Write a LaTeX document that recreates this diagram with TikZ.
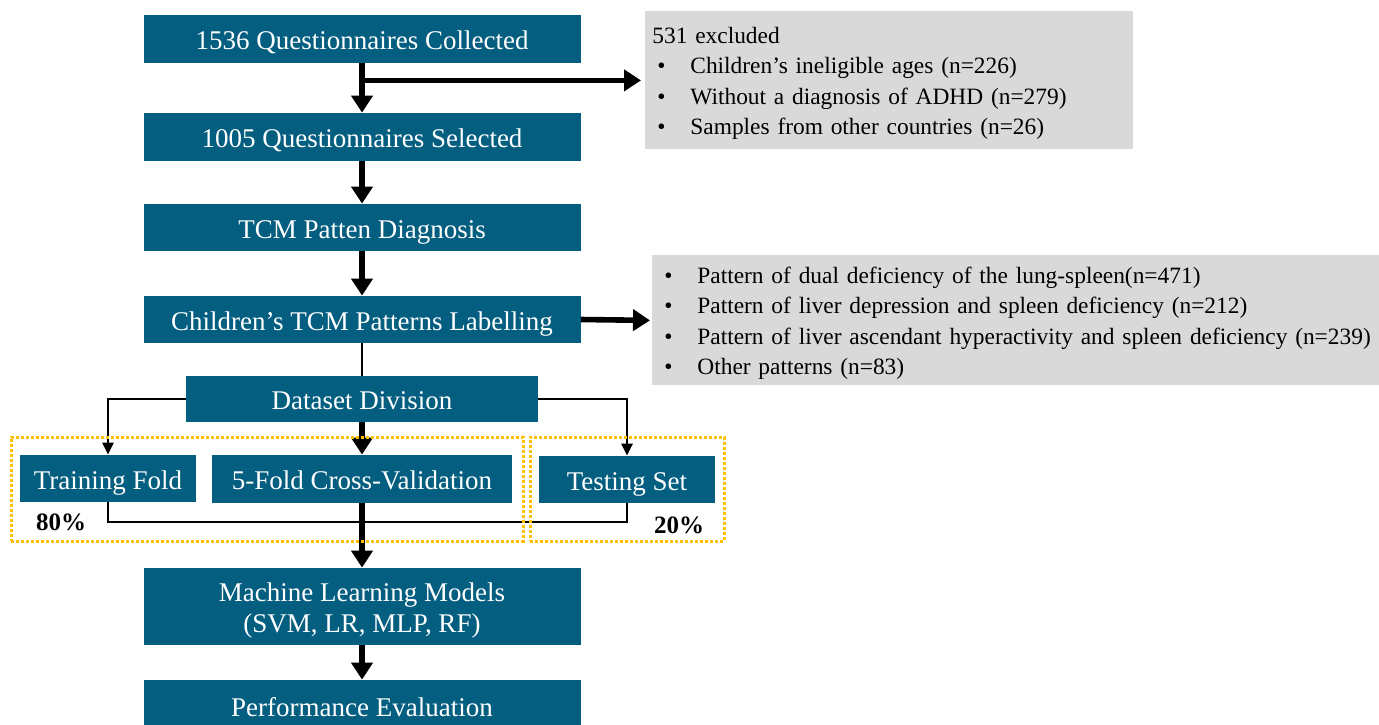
\documentclass[tikz,border=0pt]{standalone}
\usepackage{fontspec}
\setmainfont{Liberation Serif}
\usetikzlibrary{arrows.meta}
\definecolor{tealbox}{HTML}{045E80}
\definecolor{grayb}{HTML}{D9D9D9}
\definecolor{goldc}{HTML}{FFC000}
\newcommand{\bitem}[1]{\mbox{\makebox[19pt][l]{\hspace{2.5pt}\textbullet}#1}}
\tikzset{
  box/.style={fill=tealbox, text=white, inner sep=0pt, align=center, font=\fontsize{13.5}{15.5}\selectfont},
  oneline/.style={text height=11.5pt, text depth=0.6pt},
  graybox/.style={fill=grayb, anchor=north west, inner xsep=3.5pt, inner ysep=0pt, align=left, text height=9.6pt, text depth=46.7pt, font=\fontsize{11.7}{15.2}\selectfont},
  bigarrow/.style={line width=2.8pt, -{Triangle[width=10.5pt,length=8.5pt]}},
  thinarrow/.style={line width=1.4pt, -{Triangle[width=5.5pt,length=6pt]}},
  thinline/.style={line width=1.4pt},
  dotframe/.style={draw=goldc, line width=1.5pt, dash pattern=on 1.5pt off 1pt, inner sep=0pt},
  pct/.style={font=\fontsize{12.5}{14}\selectfont\bfseries, inner sep=0pt}
}
\begin{document}
\begin{tikzpicture}[x=0.5pt,y=-0.5pt]
\useasboundingbox (0,0) rectangle (1379,724);
% main boxes
\node[box, oneline, minimum width=218.5pt, minimum height=24pt] (b1) at (362,39) {1536 Questionnaires Collected};
\node[box, oneline, minimum width=218.5pt, minimum height=24pt] (b2) at (362,137) {1005 Questionnaires Selected};
\node[box, oneline, minimum width=218.5pt, minimum height=23.5pt] (b3) at (362,227.5) {TCM Patten Diagnosis};
\node[box, oneline, minimum width=218.5pt, minimum height=23.5pt] (b4) at (362,319.5) {Children’s TCM Patterns Labelling};
\node[box, oneline, minimum width=176pt, minimum height=23pt] (dd) at (362,399) {Dataset Division};
\node[box, oneline, minimum width=88pt, minimum height=23.5pt] (tf) at (108,478.5) {Training Fold};
\node[box, oneline, minimum width=150pt, minimum height=24pt] (cv) at (362,479) {5-Fold Cross-Validation};
\node[box, oneline, minimum width=88pt, minimum height=23.5pt] (ts) at (627,479.5) {Testing Set};
\node[box, text height=26.8pt, text depth=0.6pt, minimum width=218.5pt, minimum height=38.5pt] (ml) at (362,606.5) {Machine Learning Models\\(SVM, LR, MLP, RF)};
\node[box, oneline, minimum width=218.5pt, minimum height=26pt] (pe) at (362,706) {Performance Evaluation};
% gray boxes
\node[graybox, minimum width=244pt, minimum height=69pt, text width=237pt] (excl) at (645,11) {531 excluded\\
\bitem{Children’s ineligible ages (n=226)}\\
\bitem{Without a diagnosis of ADHD (n=279)}\\
\bitem{Samples from other countries (n=26)}};
\node[graybox, minimum width=363.5pt, minimum height=65pt, text width=356.5pt] (pat) at (652,255) {\bitem{Pattern of dual deficiency of the lung-spleen(n=471)}\\
\bitem{Pattern of liver depression and spleen deficiency (n=212)}\\
\bitem{Pattern of liver ascendant hyperactivity and spleen deficiency (n=239)}\\
\bitem{Other patterns (n=83)}};
% connectors
\draw[bigarrow] (b1) -- (b2);
\draw[bigarrow, shorten >=2pt] (b1.south |- excl.west) -- (excl.west);
\draw[bigarrow] (b2) -- (b3);
\draw[bigarrow] (b3) -- (b4);
\draw[bigarrow, shorten >=1pt] (b4.east) -- (pat.west);
\draw[thinline] (b4.south) -- (dd.north);
\draw[thinarrow] (dd.west) -| (tf.north);
\draw[thinarrow] (dd.east) -| (ts.north);
\draw[bigarrow] (dd.south) -- (cv.north);
\coordinate (j) at (362,522);
\draw[thinline] (tf.south) |- (j) -| (ts.south);
\draw[bigarrow] (cv.south) -- (ml.north);
\draw[bigarrow] (ml.south) -- (pe.north);
% frames
\node[dotframe, minimum width=256pt, minimum height=52pt] (g1) at (267,489) {};
\node[dotframe, minimum width=97pt, minimum height=52pt] (g2) at (627,489) {};
\node[pct] (p80) at (61,522) {80\%};
\node[pct] (p20) at (679,525) {20\%};
\end{tikzpicture}
\end{document}
